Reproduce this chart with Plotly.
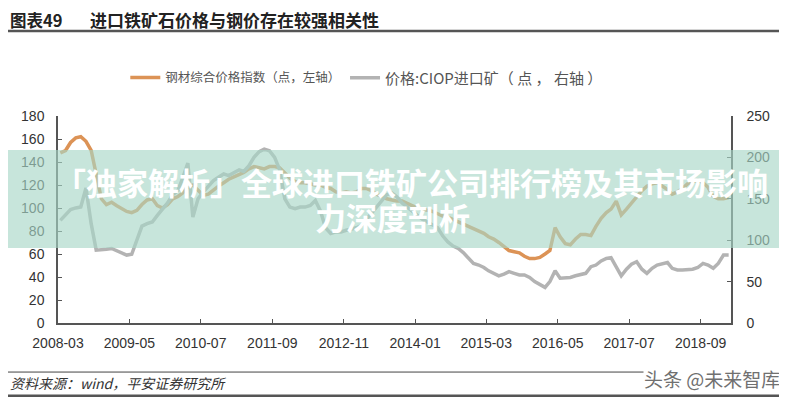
import pandas as pd
import plotly.graph_objects as go

months = pd.date_range("2008-03-01", periods=132, freq="MS") + pd.Timedelta(days=14)

steel_index = [148, 150, 157, 161, 162, 158, 150, 130, 108, 103, 105, 102, 100, 97, 96, 98,
               103, 107, 108, 102, 100, 103, 108, 110, 113, 118, 120, 115, 111, 112, 116, 119,
               122, 125, 127, 129, 131, 134, 136, 135, 134, 136, 136, 135, 130, 126, 123, 122,
               122, 121, 120, 120, 118, 117, 114, 113, 114, 113, 114, 117, 117, 115, 112, 110,
               108, 107, 106, 106, 104, 102, 100, 99, 98, 97, 95, 93, 92, 90, 88, 86,
               84, 82, 80, 78, 75, 73, 70, 66, 63, 62, 61, 58, 56, 56, 57, 60,
               63, 83, 75, 69, 68, 73, 77, 77, 76, 84, 91, 96, 99, 106, 94, 99,
               104, 110, 115, 119, 121, 122, 119, 116, 112, 114, 117, 121, 123, 124, 122, 118,
               110, 108, 108, 109]

ciop_price = [124, 130, 137, 139, 140, 163, 120, 88, 88, 89, 90, 87, 84, 82, 83, 100,
              117, 120, 122, 130, 138, 145, 155, 160, 175, 193, 128, 150, 158, 165, 172, 176,
              180, 178, 182, 185, 183, 190, 200, 207, 210, 208, 200, 185, 150, 140, 138, 140,
              140, 142, 148, 135, 115, 108, 110, 110, 112, 113, 115, 118, 125, 133, 140, 148,
              155, 157, 152, 145, 140, 135, 130, 125, 122, 118, 115, 105, 98, 93, 90, 85,
              78, 72, 70, 67, 63, 60, 57, 59, 62, 60, 58, 58, 55, 50, 46, 43,
              50, 63, 54, 54, 55, 57, 58, 60, 68, 70, 75, 78, 79, 68, 57, 65,
              71, 74, 65, 60, 66, 70, 71, 73, 66, 64, 64, 64, 65, 67, 72, 70,
              66, 72, 82, 82]

tick_dates = ["2008-03-01", "2009-05-01", "2010-07-01", "2011-09-01", "2012-11-01",
              "2014-01-01", "2015-03-01", "2016-05-01", "2017-07-01", "2018-09-01"]
tick_labels = ["2008-03", "2009-05", "2010-07", "2011-09", "2012-11",
               "2014-01", "2015-03", "2016-05", "2017-07", "2018-09"]

NB = "\u00a0"
name_steel = "钢材综合价格指数（点，左轴）"
name_ciop = f"价格:CIOP进口矿（{NB}点{NB}，{NB}右轴{NB}）"

CJK = "Noto Sans CJK SC"
NUM = "Liberation Sans, Arial, sans-serif"

fig = go.Figure()
fig.add_trace(go.Scatter(x=months, y=steel_index, name=name_steel, yaxis="y", mode="lines",
                         legend="legend", line=dict(color="#dc9356", width=3.5)))
fig.add_trace(go.Scatter(x=months, y=ciop_price, name=name_ciop, yaxis="y2", mode="lines",
                         legend="legend2", line=dict(color="#b3b3b3", width=3.5)))

axis_line = dict(showline=True, linecolor="#555555", linewidth=1.5, ticks="inside",
                 ticklen=4, tickcolor="#555555", showgrid=False, zeroline=False)
tick_font = dict(family=NUM, size=14, color="#333333")

fig.update_layout(
    width=779, height=392,
    margin=dict(l=50, r=56, t=108, b=77),
    paper_bgcolor="white", plot_bgcolor="white",
    font=dict(family=NUM, size=12, color="#333333"),
    showlegend=True,
    legend=dict(orientation="h", x=0.1, xanchor="left", y=1.184, yanchor="middle",
                font=dict(family=CJK, size=12.5, color="#555555"), itemwidth=30,
                bgcolor="rgba(0,0,0,0)"),
    legend2=dict(orientation="h", x=0.4265, xanchor="left", y=1.184, yanchor="middle",
                 font=dict(family=CJK, size=15, color="#555555"), itemwidth=30,
                 bgcolor="rgba(0,0,0,0)"),
    xaxis=dict(type="date", range=["2008-03-01", "2019-03-01"], tickvals=tick_dates,
               ticktext=tick_labels, tickfont=tick_font, ticklabelstandoff=6, **axis_line),
    yaxis=dict(range=[0, 180], dtick=20, tickfont=tick_font, ticklabelstandoff=9, **axis_line),
    yaxis2=dict(range=[0, 250], dtick=50, overlaying="y", side="right",
                tickfont=tick_font, ticklabelstandoff=11, **axis_line),
)

# header
fig.add_annotation(text="<b>图表49</b>", xref="paper", yref="paper", x=-0.0743, y=1.466,
                   xanchor="left", yanchor="middle", showarrow=False,
                   font=dict(family=CJK, size=16.5, color="#222222"))
fig.add_annotation(text="<b>进口铁矿石价格与钢价存在较强相关性</b>", xref="paper", yref="paper",
                   x=0.0446, y=1.466, xanchor="left", yanchor="middle", showarrow=False,
                   font=dict(family=CJK, size=17, color="#222222"))
fig.add_shape(type="line", xref="paper", yref="paper", x0=-0.079, x1=1.073, y0=1.411,
              y1=1.411, line=dict(color="#555555", width=2.5))

# footer
fig.add_shape(type="line", xref="paper", yref="paper", x0=-0.079, x1=0.87, y0=-0.237,
              y1=-0.237, line=dict(color="#444444", width=1))
fig.add_shape(type="line", xref="paper", yref="paper", x0=-0.079, x1=1.073, y0=-0.352,
              y1=-0.352, line=dict(color="#555555", width=2.5))
fig.add_annotation(text="<i>资料来源：wind，平安证券研究所</i>", xref="paper", yref="paper",
                   x=-0.0743, y=-0.292, xanchor="left", yanchor="middle", showarrow=False,
                   font=dict(family=CJK, size=14, color="#333333"))
fig.add_annotation(text="头条 @未来智库", xref="paper", yref="paper",
                   x=1.076, y=-0.27, xanchor="right", yanchor="middle", showarrow=False,
                   font=dict(family=CJK, size=19, color="#707070"))

# overlay banner
fig.add_shape(type="rect", xref="paper", yref="paper", x0=-0.1, x1=1.1, y0=0.362, y1=0.836,
              fillcolor="rgba(168,214,198,0.64)", line=dict(width=0), layer="above")
fig.add_annotation(text="<b>「独家解析」全球进口铁矿公司排行榜及其市场影响</b>", xref="paper",
                   yref="paper", x=0.526, y=0.684, xanchor="center", yanchor="middle",
                   showarrow=False, font=dict(family=CJK, size=31, color="white"))
fig.add_annotation(text="<b>力深度剖析</b>", xref="paper", yref="paper", x=0.497, y=0.515,
                   xanchor="center", yanchor="middle", showarrow=False,
                   font=dict(family=CJK, size=31, color="white"))

fig.write_html("out.html")
